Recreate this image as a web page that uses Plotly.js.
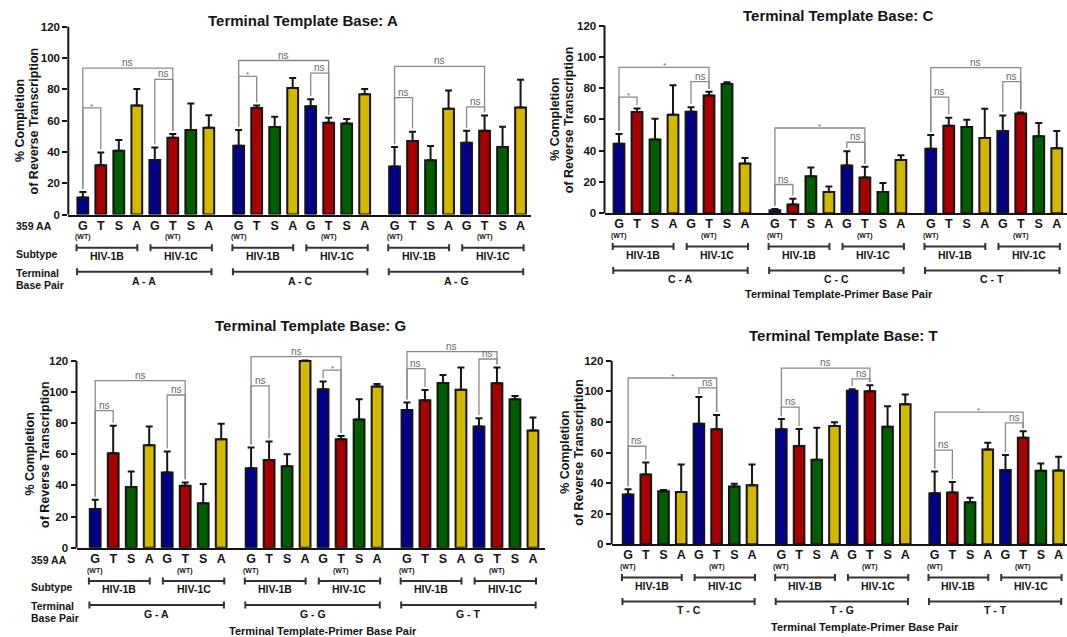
<!DOCTYPE html>
<html><head><meta charset="utf-8">
<script src="https://cdn.plot.ly/plotly-3.0.1.min.js"></script>
<style>html,body{margin:0;padding:0;background:#fff;} #chart{width:1067px;height:637px;}</style>
</head><body><div id="chart"></div>
<script>
// ---------------- data ----------------
const aminoAcids = ['G','T','S','A','G','T','S','A'];
const subtypes = ['HIV-1B','HIV-1C'];
const wtIndex = [0, 5];
const sigPairs = [[0,5],[0,1],[4,5]];

const pairsA = ['A - A','A - C','A - G'];
const pairsC = ['C - A','C - C','C - T'];
const pairsG = ['G - A','G - G','G - T'];
const pairsT = ['T - C','T - G','T - T'];

const valuesA = [10.8,31.5,40.8,69.6,34.9,49.1,54.0,55.4, 44.0,68.1,55.9,80.8,69.2,58.6,58.2,76.8, 30.7,47.0,34.7,67.5,45.9,53.5,43.2,68.4];
const errorsA = [3.6,8.1,6.8,10.6,7.9,2.3,16.9,8.1, 10.0,1.5,6.5,6.4,4.5,3.2,2.8,3.4, 12.5,5.9,9.1,11.7,7.6,9.8,12.9,17.7];
const valuesC = [44.5,64.7,47.1,63.0,64.9,75.3,82.7,31.8, 1.9,5.7,23.7,13.6,30.5,22.9,13.6,34.1, 41.3,56.0,55.1,48.1,52.6,63.8,49.2,41.6];
const errorsC = [6.2,2.3,13.3,18.8,2.9,2.3,1.0,3.6, 0.9,3.6,5.6,3.6,9.1,6.8,5.7,3.0, 8.7,5.1,4.7,18.7,9.9,0.6,8.5,11.0];
const valuesG = [24.8,60.6,38.9,65.8,48.3,39.7,28.6,69.6, 51.0,56.2,52.3,119.8,101.6,69.6,82.2,103.4, 88.4,94.6,105.7,101.4,77.7,105.5,95.2,75.2];
const errorsG = [5.9,17.6,10.0,11.9,13.4,2.2,12.2,10.0, 13.3,11.9,7.7,0.4,5.0,2.1,13.0,1.7, 4.7,6.6,5.1,14.3,5.4,10.2,2.2,8.3];
const valuesT = [32.5,45.7,34.7,34.2,78.8,75.2,37.7,38.6, 75.2,64.3,55.2,77.3,100.3,100.1,76.9,91.6, 33.4,33.8,27.5,61.9,48.5,69.7,48.1,48.3];
const errorsT = [3.5,7.8,0.8,18.0,17.4,9.3,1.9,13.6, 6.7,11.1,21.0,2.4,1.1,3.9,13.4,6.3, 14.2,6.9,3.0,4.4,9.8,4.2,4.7,8.9];

// significance bracket heights (per group: [0-5, 0-1, 4-5]) and labels
const sigLevelsA = [[93.5,68.1,86.3],[98.4,88.3,90.4],[94.6,74.7,68.8]];
const sigLabelsA = [['ns','*','ns'],['ns','*','ns'],['ns','ns','ns']];
const sigLevelsC = [[93.3,74.2,84.2],[54.5,18.4,45.4],[93.1,74.2,84.2]];
const sigLabelsC = [['*','*','ns'],['*','ns','ns'],['ns','ns','ns']];
const sigLevelsG = [[107.2,88.0,98.0],[122.6,103.8,114.0],[125.8,114.9,121.1]];
const sigLabelsG = [['ns','ns','ns'],['ns','ns','*'],['ns','ns','ns']];
const sigLevelsT = [[108.7,64.1,102.2],[115.2,89.7,108.1],[86.4,61.5,79.3]];
const sigLabelsT = [['*','ns','ns'],['ns','ns','ns'],['*','ns','ns']];

const yTicks = [0,20,40,60,80,100,120];
const titleText = 'Terminal Template Base: ';
const xTitleText = 'Terminal Template-Primer Base Pair';
const yTitleLines = ['% Completion','of Reverse Transcription'];
const rowLabels = ['359 AA','Subtype','Terminal','Base Pair'];

// ---------------- style / layout ----------------
const W = 1067, H = 637;
const FONT = 'Liberation Sans, Arial, Helvetica, sans-serif';
const INK = '#151515';
const barColors = {G:'#00008C', T:'#A80000', S:'#005E00', A:'#D2B800'};
const GROUP_STEP = 8.66;
const fx = p => p / W;
const fy = p => 1 - p / H;

const positions = [];
for (let g = 0; g < 3; g++) for (let i = 0; i < 8; i++) positions.push(g * GROUP_STEP + i);
const letters = positions.map((_, k) => aminoAcids[k % 8]);

const panels = [
  {base:'A', ax:'',  values:valuesA, errors:errorsA, pairs:pairsA, levels:sigLevelsA, labels:sigLabelsA,
   yaxisX:68.3, firstBar:82.8, pitch:18.0, xEnd:530.5, y0:214.5, y120:26.7, yTop:125,
   titleX:303, titleY:21, yTitleX:[19.5,33.8], leftX:15, xTitle:null},
  {base:'C', ax:'2', values:valuesC, errors:errorsC, pairs:pairsC, levels:sigLevelsC, labels:sigLabelsC,
   yaxisX:604.5, firstBar:619.0, pitch:18.0, xEnd:1067, y0:213.3, y120:25.5, yTop:125,
   titleX:838, titleY:15.5, yTitleX:[555.4,568.9], leftX:null, xTitle:[838.7,294.3]},
  {base:'G', ax:'3', values:valuesG, errors:errorsG, pairs:pairsG, levels:sigLevelsG, labels:sigLabelsG,
   yaxisX:76.5, firstBar:95.2, pitch:18.0, xEnd:545, y0:547.7, y120:360.7, yTop:132,
   titleX:310, titleY:325, yTitleX:[30.3,44.8], leftX:29.5, xTitle:[323.4,630.5]},
  {base:'T', ax:'4', values:valuesT, errors:errorsT, pairs:pairsT, levels:sigLevelsT, labels:sigLabelsT,
   yaxisX:611.7, firstBar:628.1, pitch:17.7, xEnd:1067, y0:544.3, y120:360.7, yTop:125,
   titleX:843, titleY:335, yTitleX:[564.3,578.3], leftX:null, xTitle:[865,627.3]}
];

const data = [];
const shapes = [];
const annotations = [];
const layout = {
  width: W, height: H, margin: {l:0, r:0, t:0, b:0},
  paper_bgcolor: '#fff', plot_bgcolor: 'rgba(0,0,0,0)',
  showlegend: false, font: {family: FONT, color: INK},
  shapes: shapes, annotations: annotations
};

function ann(o) {
  annotations.push(Object.assign({showarrow:false, xanchor:'center', yanchor:'middle', borderpad:0}, o));
}

panels.forEach(p => {
  const xa = 'x' + p.ax, ya = 'y' + p.ax;
  const ppu = (p.y0 - p.y120) / 120;
  const xmin = -(p.firstBar - p.yaxisX) / p.pitch;
  const xmax = (p.xEnd - p.firstBar) / p.pitch;
  const py = off => fy(p.y0 + off);   // paper y for pixel offset below axis

  data.push({
    type:'bar', x: positions, y: p.values, width: 0.6,
    xaxis: xa, yaxis: ya, hoverinfo:'skip',
    marker: {color: letters.map(l => barColors[l]), line: {color: INK, width: 2}},
    error_y: {type:'data', symmetric:false, array: p.errors, arrayminus: p.errors.map(() => 0),
              color: INK, thickness: 2, width: 3.5}
  });

  layout['xaxis' + p.ax] = {
    domain: [fx(p.yaxisX), Math.min(1, fx(p.xEnd))], range: [xmin, xmax], anchor: ya,
    showline: true, linewidth: 2, linecolor: INK, ticks: '', showgrid: false, zeroline: false,
    tickvals: positions, ticktext: letters, ticklabelstandoff: -2,
    tickfont: {family: FONT, size: 12.5, color: INK, weight: 'bold'}, fixedrange: true
  };
  layout['yaxis' + p.ax] = {
    domain: [fy(p.y0), fy(p.y0 - p.yTop * ppu)], range: [0, p.yTop], anchor: xa,
    showline: false, ticks: 'outside', ticklen: 5, tickwidth: 2, tickcolor: INK,
    tickvals: yTicks, showgrid: false, zeroline: false,
    tickfont: {family: FONT, size: 11.5, color: INK, weight: 'bold'}, fixedrange: true
  };

  // y axis line (only up to 120)
  shapes.push({type:'line', xref:'paper', yref: ya, x0: fx(p.yaxisX), x1: fx(p.yaxisX), y0: -0.6, y1: 120,
               line: {color: INK, width: 2}});

  // title
  ann({xref:'paper', yref:'paper', x: fx(p.titleX), y: fy(p.titleY),
       text: '<b>' + titleText + p.base + '</b>', font: {family: FONT, size: 15, color: INK}});
  // y title (two lines)
  yTitleLines.forEach((t, k) => ann({xref:'paper', yref:'paper', x: fx(p.yTitleX[k]), y: fy((p.y0 + p.y120) / 2),
       text: '<b>' + t + '</b>', textangle: -90, font: {family: FONT, size: 12.5, color: INK}}));
  // x title
  if (p.xTitle) ann({xref:'paper', yref:'paper', x: fx(p.xTitle[0]), y: fy(p.xTitle[1]),
       text: '<b>' + xTitleText + '</b>', font: {family: FONT, size: 11, color: INK}});
  // row labels on left
  if (p.leftX !== null) {
    const offs = [12, 39, 58.5, 70.5];
    rowLabels.forEach((t, k) => ann({xref:'paper', yref:'paper', x: fx(p.leftX), y: py(offs[k]), xanchor:'left',
       text: '<b>' + t + '</b>', font: {family: FONT, size: 10.5, color: INK}}));
  }

  for (let g = 0; g < 3; g++) {
    const gx = k => positions[g * 8 + k];
    // (WT) markers
    wtIndex.forEach(k => ann({xref: xa, yref:'paper', x: gx(k), y: py(23),
       text: '<b>(WT)</b>', font: {family: FONT, size: 7, color: INK}}));
    // subtype brackets
    subtypes.forEach((s, si) => {
      const a = gx(si * 4) + (si === 0 ? -0.35 : -0.24);
      const b = gx(si * 4 + 3) + (si === 0 ? 0.03 : 0.17);
      const ym = py(33.2), yt = py(29.7), yb = py(36.7);
      shapes.push({type:'path', xref: xa, yref:'paper',
        path: `M${a},${yt}L${a},${yb}M${a},${ym}L${b},${ym}M${b},${yt}L${b},${yb}`,
        line: {color: '#333', width: 2}});
      ann({xref: xa, yref:'paper', x: (a + b) / 2, y: py(41.7), text: '<b>' + s + '</b>',
           font: {family: FONT, size: 10.5, color: INK}});
    });
    // base-pair bracket
    {
      const a = gx(0) - 0.32, b = gx(7) + 0.15;
      const ym = py(57.2), yt = py(53.7), yb = py(60.7);
      shapes.push({type:'path', xref: xa, yref:'paper',
        path: `M${a},${yt}L${a},${yb}M${a},${ym}L${b},${ym}M${b},${yt}L${b},${yb}`,
        line: {color: '#333', width: 2}});
      ann({xref: xa, yref:'paper', x: (a + b) / 2, y: py(66), text: '<b>' + p.pairs[g] + '</b>',
           font: {family: FONT, size: 10.5, color: INK}});
    }
    // significance brackets
    sigPairs.forEach((pr, si) => {
      const i = g * 8 + pr[0], j = g * 8 + pr[1];
      const lvl = p.levels[g][si];
      const bi = Math.min(lvl, p.values[i] + p.errors[i] + 2);
      const bj = Math.min(lvl, p.values[j] + p.errors[j] + 2);
      shapes.push({type:'path', xref: xa, yref: ya,
        path: `M${positions[i]},${bi}L${positions[i]},${lvl}L${positions[j]},${lvl}L${positions[j]},${bj}`,
        line: {color: '#8a8a8a', width: 1.3}});
      const lab = p.labels[g][si];
      ann({xref: xa, yref: ya, x: (positions[i] + positions[j]) / 2, y: lvl, yanchor: 'bottom',
           yshift: lab === '*' ? -4 : -1, text: lab,
           font: {family: FONT, size: lab === '*' ? 8 : 10, color: '#666'}});
    });
  }
});

Plotly.newPlot('chart', data, layout, {displayModeBar: false, staticPlot: true});
</script></body></html>
